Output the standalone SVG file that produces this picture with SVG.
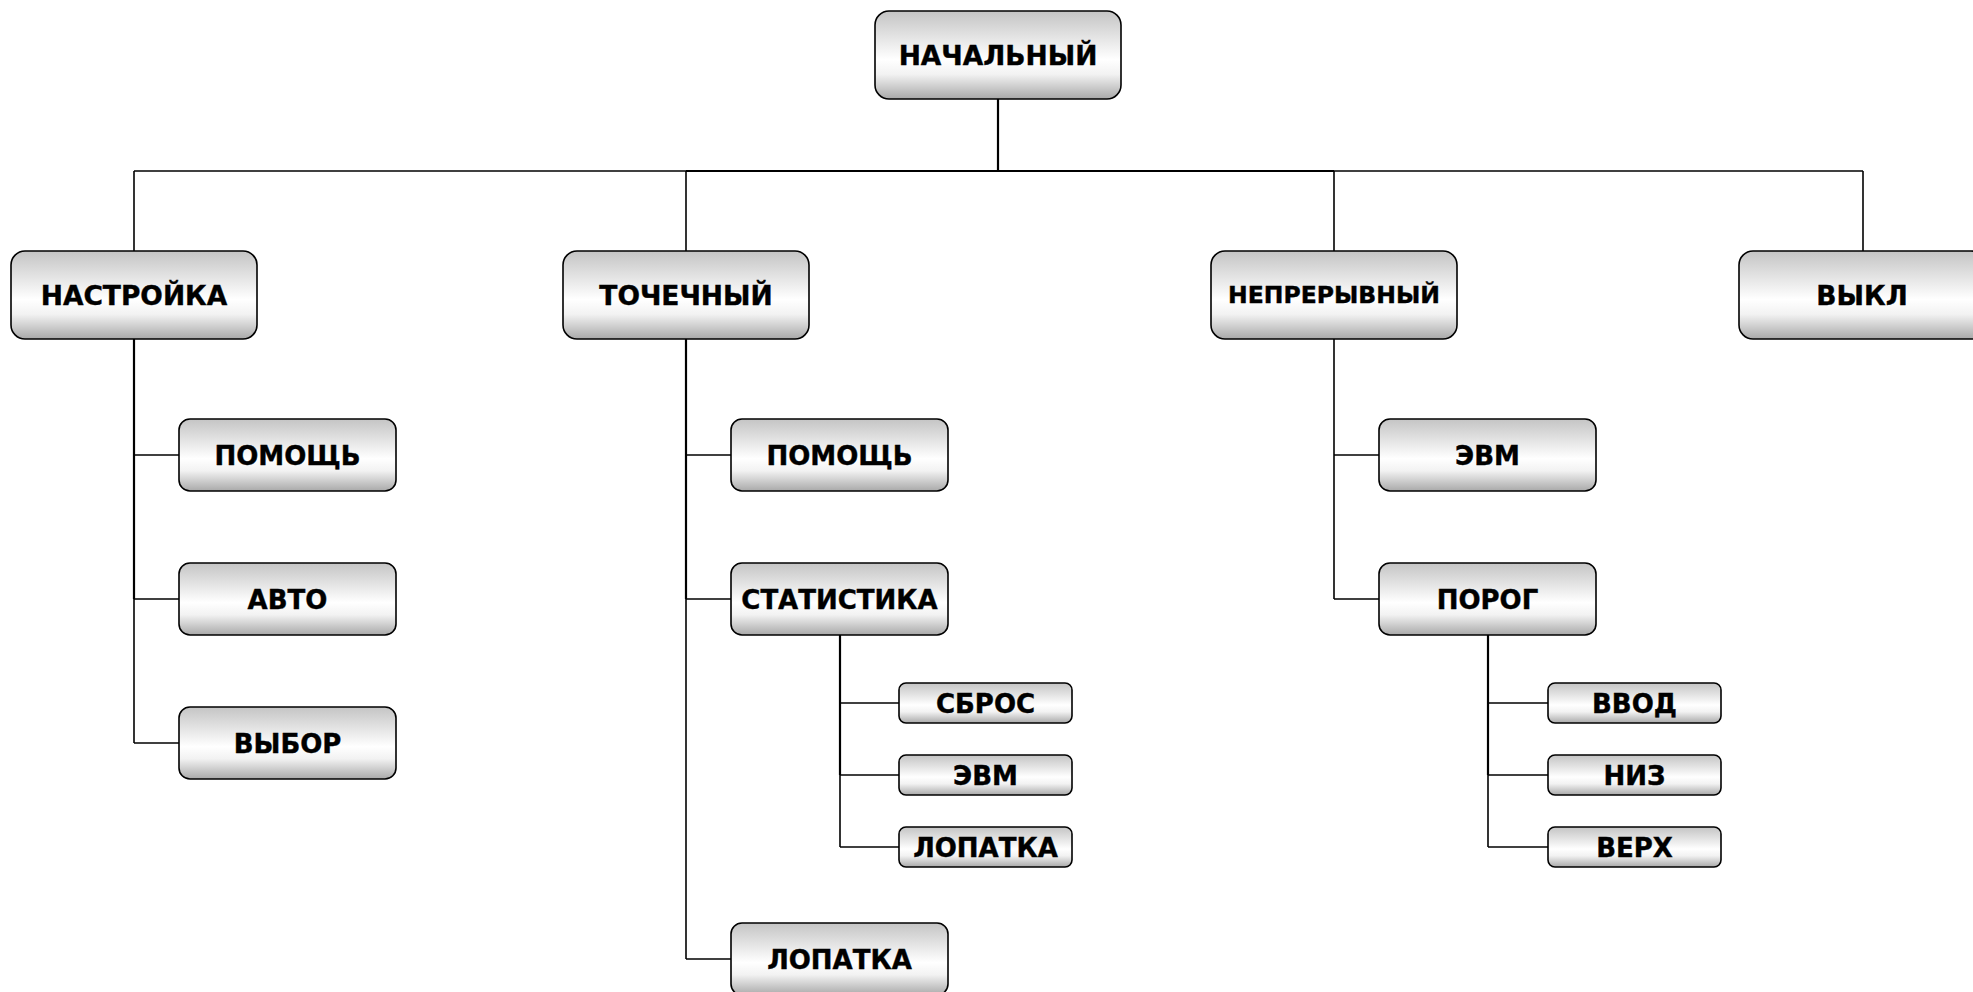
<svg xmlns="http://www.w3.org/2000/svg" width="1973" height="992" viewBox="0 0 1973 992">
<defs>
<linearGradient id="g" x1="0" y1="0" x2="0" y2="1">
<stop offset="0" stop-color="#c4c4c4"/>
<stop offset="0.55" stop-color="#ffffff"/>
<stop offset="0.72" stop-color="#f2f2f2"/>
<stop offset="1" stop-color="#a9a9a9"/>
</linearGradient>
</defs>
<style>
.b{fill:url(#g);stroke:#000;stroke-width:1.6}
.t{font-family:"DejaVu Sans",Verdana,sans-serif;font-weight:bold;text-anchor:middle;fill:#000;stroke:#000;stroke-width:0.4}
.l1{font-size:26.5px}
.l2{font-size:26px}
.l3{font-size:26px}
.c{stroke:#000;fill:none;stroke-width:1.6}
.cw{stroke:#000;fill:none;stroke-width:2.2}
</style>
<rect width="1973" height="992" fill="#fff"/>
<g id="connectors">
<line class="cw" x1="998" y1="99" x2="998" y2="171"/>
<line class="c" x1="134" y1="171" x2="686" y2="171"/>
<line class="cw" x1="686" y1="171" x2="1334" y2="171"/>
<line class="c" x1="1334" y1="171" x2="1863" y2="171"/>
<line class="c" x1="134" y1="171" x2="134" y2="251"/>
<line class="c" x1="686" y1="171" x2="686" y2="251"/>
<line class="c" x1="1334" y1="171" x2="1334" y2="251"/>
<line class="c" x1="1863" y1="171" x2="1863" y2="251"/>
<line class="cw" x1="134" y1="339" x2="134" y2="599"/>
<line class="c" x1="134" y1="599" x2="134" y2="743"/>
<line class="c" x1="134" y1="455" x2="179" y2="455"/>
<line class="c" x1="134" y1="599" x2="179" y2="599"/>
<line class="c" x1="134" y1="743" x2="179" y2="743"/>
<line class="cw" x1="686" y1="339" x2="686" y2="599"/>
<line class="c" x1="686" y1="599" x2="686" y2="959"/>
<line class="c" x1="686" y1="455" x2="731" y2="455"/>
<line class="c" x1="686" y1="599" x2="731" y2="599"/>
<line class="c" x1="686" y1="959" x2="731" y2="959"/>
<line class="cw" x1="840" y1="635" x2="840" y2="775"/>
<line class="c" x1="840" y1="775" x2="840" y2="847"/>
<line class="c" x1="840" y1="703" x2="899" y2="703"/>
<line class="c" x1="840" y1="775" x2="899" y2="775"/>
<line class="c" x1="840" y1="847" x2="899" y2="847"/>
<line class="c" x1="1334" y1="339" x2="1334" y2="599"/>
<line class="c" x1="1334" y1="455" x2="1379" y2="455"/>
<line class="c" x1="1334" y1="599" x2="1379" y2="599"/>
<line class="cw" x1="1488" y1="635" x2="1488" y2="775"/>
<line class="c" x1="1488" y1="775" x2="1488" y2="847"/>
<line class="c" x1="1488" y1="703" x2="1548" y2="703"/>
<line class="c" x1="1488" y1="775" x2="1548" y2="775"/>
<line class="c" x1="1488" y1="847" x2="1548" y2="847"/>
</g>
<g id="n-root"><rect class="b" x="875" y="11" width="246" height="88" rx="14"/><text class="t l1" x="998" y="65">НАЧАЛЬНЫЙ</text></g>
<g id="n-nastroika"><rect class="b" x="11" y="251" width="246" height="88" rx="14"/><text class="t l1" x="134" y="305">НАСТРОЙКА</text></g>
<g id="n-tochechny"><rect class="b" x="563" y="251" width="246" height="88" rx="14"/><text class="t l1" x="686" y="305">ТОЧЕЧНЫЙ</text></g>
<g id="n-nepreryvny"><rect class="b" x="1211" y="251" width="246" height="88" rx="14"/><text class="t" style="font-size:23.5px" x="1334" y="303">НЕПРЕРЫВНЫЙ</text></g>
<g id="n-vykl"><rect class="b" x="1739" y="251" width="246" height="88" rx="14"/><text class="t l1" x="1862" y="305">ВЫКЛ</text></g>
<g id="n-pomosch1"><rect class="b" x="179" y="419" width="217" height="72" rx="11"/><text class="t l2" x="287.5" y="465">ПОМОЩЬ</text></g>
<g id="n-avto"><rect class="b" x="179" y="563" width="217" height="72" rx="11"/><text class="t l2" x="287.5" y="609">АВТО</text></g>
<g id="n-vybor"><rect class="b" x="179" y="707" width="217" height="72" rx="11"/><text class="t l2" x="287.5" y="753">ВЫБОР</text></g>
<g id="n-pomosch2"><rect class="b" x="731" y="419" width="217" height="72" rx="11"/><text class="t l2" x="839.5" y="465">ПОМОЩЬ</text></g>
<g id="n-statistika"><rect class="b" x="731" y="563" width="217" height="72" rx="11"/><text class="t l2" x="839.5" y="609">СТАТИСТИКА</text></g>
<g id="n-lopatka2"><rect class="b" x="731" y="923" width="217" height="72" rx="11"/><text class="t l2" x="839.5" y="969">ЛОПАТКА</text></g>
<g id="n-evm2"><rect class="b" x="1379" y="419" width="217" height="72" rx="11"/><text class="t l2" x="1487.5" y="465">ЭВМ</text></g>
<g id="n-porog"><rect class="b" x="1379" y="563" width="217" height="72" rx="11"/><text class="t l2" x="1487.5" y="609">ПОРОГ</text></g>
<g id="n-sbros"><rect class="b" x="899" y="683" width="173" height="40" rx="7"/><text class="t l3" x="985.5" y="712.5">СБРОС</text></g>
<g id="n-evm3"><rect class="b" x="899" y="755" width="173" height="40" rx="7"/><text class="t l3" x="985.5" y="784.5">ЭВМ</text></g>
<g id="n-lopatka3"><rect class="b" x="899" y="827" width="173" height="40" rx="7"/><text class="t l3" x="985.5" y="856.5">ЛОПАТКА</text></g>
<g id="n-vvod"><rect class="b" x="1548" y="683" width="173" height="40" rx="7"/><text class="t l3" x="1634.5" y="712.5">ВВОД</text></g>
<g id="n-niz"><rect class="b" x="1548" y="755" width="173" height="40" rx="7"/><text class="t l3" x="1634.5" y="784.5">НИЗ</text></g>
<g id="n-verh"><rect class="b" x="1548" y="827" width="173" height="40" rx="7"/><text class="t l3" x="1634.5" y="856.5">ВЕРХ</text></g>
</svg>
